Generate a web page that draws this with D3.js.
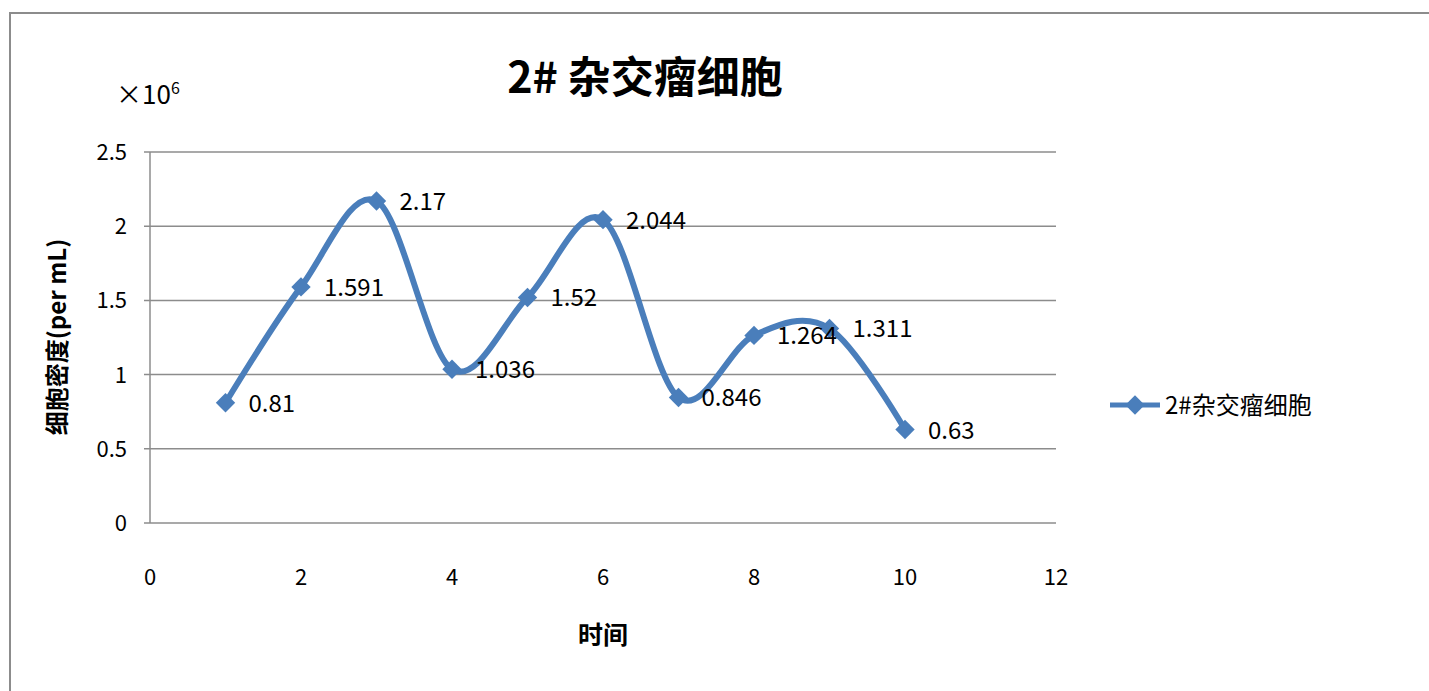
<!DOCTYPE html>
<html><head><meta charset="utf-8">
<script src="https://cdn.jsdelivr.net/npm/d3@7"></script>
<style>body{margin:0;background:#fff}svg{display:block}text{font-family:"Noto Sans CJK SC","Liberation Sans",sans-serif}</style>
</head><body>
<script>
var times = [1, 2, 3, 4, 5, 6, 7, 8, 9, 10];
var density = [0.81, 1.591, 2.17, 1.036, 1.52, 2.044, 0.846, 1.264, 1.311, 0.63];
var labels = ["0.81", "1.591", "2.17", "1.036", "1.52", "2.044", "0.846", "1.264", "1.311", "0.63"];
var xTicks = [0, 2, 4, 6, 8, 10, 12];
var yTicks = [0, 0.5, 1, 1.5, 2, 2.5];
var color = "#4a7ebb";

var svg = d3.select("body").append("svg").attr("width", 1429).attr("height", 691);
// frame
svg.append("path").attr("d", "M10,691V13H1429").attr("fill", "none").attr("stroke", "#8c8c8c").attr("stroke-width", 2);

var x = d3.scaleLinear().domain([0, 12]).range([150, 1056]);
var y = d3.scaleLinear().domain([0, 2.5]).range([523, 152]);

svg.selectAll(".grid").data(yTicks).enter().append("line")
  .attr("x1", 144).attr("x2", 1056).attr("y1", d => y(d)).attr("y2", d => y(d))
  .attr("stroke", "#8c8c8c").attr("stroke-width", 1.5);
svg.append("line").attr("x1", 150).attr("x2", 150).attr("y1", 152).attr("y2", 523).attr("stroke", "#8c8c8c").attr("stroke-width", 1.5);

svg.selectAll(".yt").data(yTicks).enter().append("text")
  .attr("x", 127).attr("y", d => y(d) + 8).attr("text-anchor", "end").attr("font-size", 22).attr("font-family", "Liberation Sans").text(d => d);
svg.selectAll(".xt").data(xTicks).enter().append("text")
  .attr("x", d => x(d)).attr("y", 585).attr("text-anchor", "middle").attr("font-size", 22).attr("font-family", "Liberation Sans").text(d => d);

var line = d3.line().x((d, i) => x(times[i])).y(d => y(d)).curve(d3.curveCardinal.tension(0));
svg.append("path").attr("d", line(density)).attr("fill", "none").attr("stroke", color).attr("stroke-width", 6);

var diamond = d3.symbol().type(d3.symbolDiamond2).size(240);
svg.selectAll(".pt").data(density).enter().append("path")
  .attr("d", diamond).attr("fill", color)
  .attr("transform", (d, i) => "translate(" + x(times[i]) + "," + y(d) + ")");

svg.selectAll(".lb").data(density).enter().append("text")
  .attr("x", (d, i) => x(times[i]) + 23).attr("y", d => y(d) + 9)
  .attr("font-size", 24).attr("font-family", "Open Sans").text((d, i) => labels[i]);

svg.append("text").attr("x", 645).attr("y", 93).attr("text-anchor", "middle").attr("font-size", 43).attr("font-weight", "bold").text("2# 杂交瘤细胞");
var mul = svg.append("text").attr("x", 116).attr("y", 104).attr("font-size", 26).attr("font-family", "Liberation Sans");
mul.append("tspan").text("×10");
mul.append("tspan").attr("font-size", 16).attr("dy", -10).text("6");

svg.append("text").attr("transform", "translate(66,337) rotate(-90)").attr("text-anchor", "middle")
  .attr("font-size", 24).attr("font-weight", "bold").text("细胞密度(per mL)");
svg.append("text").attr("x", 603).attr("y", 644).attr("text-anchor", "middle").attr("font-size", 25).attr("font-weight", "bold").text("时间");

svg.append("line").attr("x1", 1110).attr("x2", 1160).attr("y1", 405).attr("y2", 405).attr("stroke", color).attr("stroke-width", 5);
svg.append("path").attr("d", diamond).attr("fill", color).attr("transform", "translate(1135,405)");
svg.append("text").attr("x", 1165).attr("y", 414).attr("font-size", 24).text("2#杂交瘤细胞");
</script>
</body></html>
